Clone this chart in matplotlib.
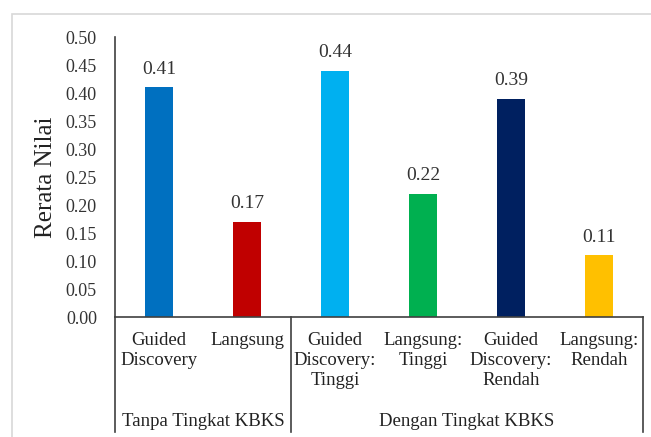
import matplotlib
matplotlib.use("Agg")
import matplotlib.pyplot as plt
from matplotlib.patches import Rectangle
import matplotlib.transforms as mtransforms

categories = ["Guided\nDiscovery", "Langsung", "Guided\nDiscovery:\nTinggi",
              "Langsung:\nTinggi", "Guided\nDiscovery:\nRendah", "Langsung:\nRendah"]
values = [0.41, 0.17, 0.44, 0.22, 0.39, 0.11]
labels = ["0.41", "0.17", "0.44", "0.22", "0.39", "0.11"]
colors = ["#0070C0", "#C00000", "#00B0F0", "#00B050", "#002060", "#FFC000"]
groups = ["Tanpa Tingkat KBKS", "Dengan Tingkat KBKS"]
group_sizes = [2, 4]
yticks = [0.00, 0.05, 0.10, 0.15, 0.20, 0.25, 0.30, 0.35, 0.40, 0.45, 0.50]

plt.rcParams['font.family'] = ['Liberation Serif', 'DejaVu Serif']

fig = plt.figure(figsize=(6.51, 4.37), dpi=100)
fig.patch.set_facecolor("white")
# outer light frame
fig.add_artist(Rectangle((12/651, -0.05), 2, 1 - 14/437 + 0.05, transform=fig.transFigure,
                         fill=False, edgecolor="#d8d8d8", linewidth=1.2))

ax = fig.add_axes([115/651, 1 - 317/437, (643-115)/651, (317-37)/437])
x = list(range(len(values)))
ax.bar(x, values, width=0.31, color=colors)
ax.set_xlim(-0.5, len(values) - 0.5)
ax.set_ylim(0, 0.5)
ax.set_yticks(yticks)
ax.set_yticklabels([f"{t:.2f}" for t in yticks], fontsize=13, color="#333333")
ax.tick_params(axis='y', length=0, pad=13)
ax.set_xticks([])
for s in ["top", "right"]:
    ax.spines[s].set_visible(False)
for s in ["left", "bottom"]:
    ax.spines[s].set_color("#404040")
    ax.spines[s].set_linewidth(1.2)
ax.set_ylabel("Rerata Nilai", fontsize=18, labelpad=6, color="#222222")

for xi, v, lab in zip(x, values, labels):
    ax.text(xi, v + 0.017, lab, ha="center", va="bottom", fontsize=14, color="#333333")

trans = mtransforms.blended_transform_factory(ax.transData, ax.transAxes)
for xi, c in zip(x, categories):
    ax.text(xi, -0.055, c, ha="center", va="top", fontsize=13.5, color="#222222",
            transform=trans, linespacing=1.2)

# group separators and labels
bottom = -(432 - 317) / 280
start = -0.5
bounds = [start]
for g in group_sizes:
    start += g
    bounds.append(start)
for b in bounds:
    ax.plot([b, b], [0, bottom], transform=trans, color="#404040", lw=1.2, clip_on=False)
for i, g in enumerate(groups):
    mid = (bounds[i] + bounds[i + 1]) / 2
    ax.text(mid, -(422 - 317) / 280, g, ha="center", va="center", fontsize=13.5,
            color="#222222", transform=trans)

fig.savefig("out.png", dpi=100)
